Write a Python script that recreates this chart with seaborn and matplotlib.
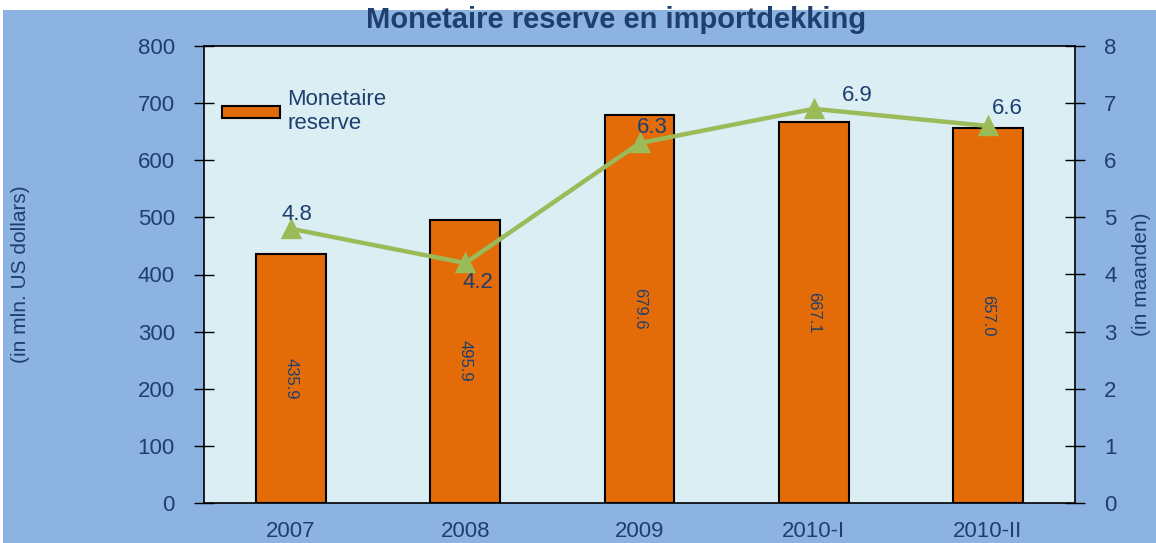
import matplotlib
matplotlib.use("Agg")
import matplotlib.pyplot as plt
import seaborn as sns
import pandas as pd
from matplotlib.patches import Rectangle

categories = ["2007", "2008", "2009", "2010-I", "2010-II"]
reserve = [435.9, 495.9, 679.6, 667.1, 657.0]
importdekking = [4.8, 4.2, 6.3, 6.9, 6.6]
left_ticks = [0, 100, 200, 300, 400, 500, 600, 700, 800]
right_ticks = [0, 1, 2, 3, 4, 5, 6, 7, 8]

sns.set_style("white")
plt.rcParams['font.family'] = ['Liberation Sans', 'DejaVu Sans']

TXT = "#1F3F6E"
BAR = "#E36C09"
LINE = "#9BBB59"

fig = plt.figure(figsize=(11.56, 5.43), dpi=100, facecolor="white")
fig.patches.append(Rectangle((3/1156, 0), 1, 1 - 10/543, transform=fig.transFigure,
                             facecolor="#8DB3E2", edgecolor="none", zorder=-10))
ax = fig.add_axes([204/1156, 1 - 503/543, (1075-204)/1156, (503-46)/543])
ax.set_facecolor("#DAEEF3")

df = pd.DataFrame({"cat": categories, "reserve": reserve})
sns.barplot(data=df, x="cat", y="reserve", ax=ax, color=BAR, width=0.4,
            edgecolor="black", linewidth=1.5, saturation=1, label="Monetaire\nreserve")
for c in ax.containers:
    ax.bar_label(c, labels=[f"{v:.1f}" for v in reserve], label_type="center",
                 rotation=-90, color=TXT, fontsize=12)

ax.set_ylim(0, 800)
ax.set_xlim(-0.5, 4.5)
ax.set_yticks(left_ticks)
ax.set_xlabel("")
ax.set_ylabel("(in mln. US dollars)", color=TXT, fontsize=15)
ax.yaxis.set_label_coords(-0.2, 0.5)
ax.set_xticks(range(len(categories)))
ax.set_xticklabels(categories)
ax.set_xticks([-0.5, 0.5, 1.5, 2.5, 3.5, 4.5], minor=True)
ax.tick_params(axis="x", which="major", length=0, pad=13, labelsize=16, labelcolor=TXT)
ax.tick_params(axis="x", which="minor", length=14, direction="inout", width=1, color="black")
ax.tick_params(axis="y", length=14, direction="inout", width=1, color="black",
               labelsize=16, labelcolor=TXT, pad=14)
for s in ax.spines.values():
    s.set_color("black")
    s.set_linewidth(1.2)

ax2 = ax.twinx()
sns.pointplot(x=categories, y=importdekking, ax=ax2, color=LINE, markers="^",
              markersize=12, linewidth=3.2)
ax2.set_ylim(0, 8)
ax2.set_xlim(-0.5, 4.5)
ax2.set_yticks(right_ticks)
ax2.set_ylabel("(in maanden)", color=TXT, fontsize=15)
ax2.yaxis.set_label_coords(1.066, 0.5)
ax2.tick_params(axis="y", length=14, direction="inout", width=1, color="black",
                labelsize=16, labelcolor=TXT, pad=14)
for s in ax2.spines.values():
    s.set_visible(False)

offsets = [(6, 14), (13, -19), (13, 16), (44, 13), (19, 17)]
for i, (v, off) in enumerate(zip(importdekking, offsets)):
    ax2.annotate(f"{v:.1f}", (i, v), xytext=off, textcoords="offset pixels",
                 color=TXT, fontsize=16, ha="center", va="center")

ax.legend(loc="upper left", bbox_to_anchor=(0.0, 0.945), frameon=False, fontsize=16,
          labelcolor=TXT, handlelength=2.6, handleheight=0.45, borderaxespad=0.4,
          handletextpad=0.35)

fig.suptitle("Monetaire reserve en importdekking", x=0.533, y=1 - 20/543, va="center",
             fontsize=21, fontweight="bold", color=TXT)

fig.savefig("out.png", dpi=100, facecolor=fig.get_facecolor())
